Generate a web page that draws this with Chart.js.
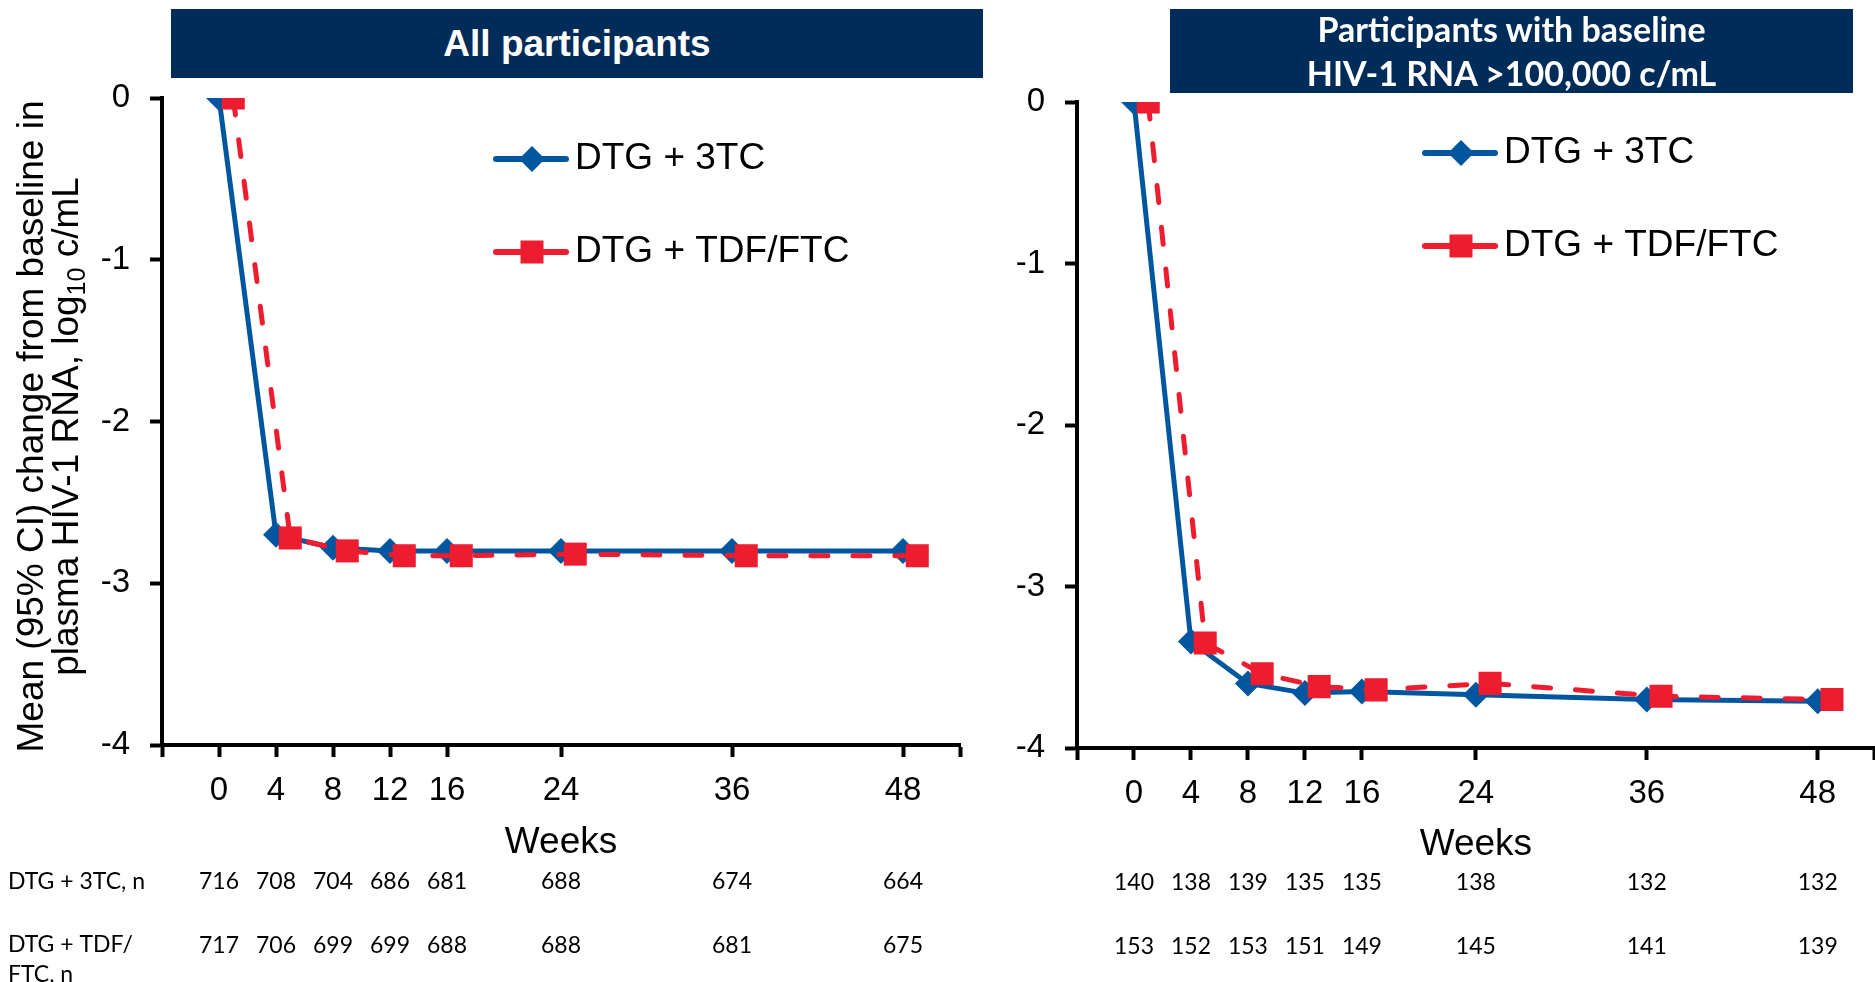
<!DOCTYPE html>
<html>
<head>
<meta charset="utf-8">
<script src="https://cdn.jsdelivr.net/npm/chart.js@4.4.1/dist/chart.umd.min.js"></script>
<style>
  html, body { margin: 0; padding: 0; background: #fff; }
  body { width: 1875px; height: 982px; position: relative; overflow: hidden; font-family: Arial, "Liberation Sans", sans-serif; }
  .panel { position: absolute; top: 0; height: 982px; }
  .bar { position: absolute; background: #002c5a; color: #fff; text-align: center; font-weight: bold; }
</style>
</head>
<body>
<div class="panel" style="left:0;width:1000px"><canvas id="chartAll"></canvas></div>
<div class="panel" style="left:1000px;width:891px"><canvas id="chartHigh"></canvas></div>
<div class="bar" style="left:171px;top:9px;width:812px;height:69px;line-height:69px;font-size:37px;">All participants</div>
<div class="bar" style="left:1170px;top:9px;width:683px;height:84px;line-height:44px;font-family:Lato, 'Open Sans', sans-serif;font-size:34px;"><div style="margin-top:-2px">Participants with baseline<br>HIV-1 RNA &gt;100,000 c/mL</div></div>
<script>
// weeks on the x axis
const weeks = [0, 4, 8, 12, 16, 24, 36, 48];
const seriesNames = ['DTG + 3TC', 'DTG + TDF/FTC'];
const yTicks = [0, -1, -2, -3, -4];

// mean change from baseline, log10 c/mL
const allDtg3tc = [0, -2.70, -2.78, -2.80, -2.80, -2.80, -2.80, -2.80];
const allDtgTdf = [0, -2.72, -2.80, -2.83, -2.83, -2.82, -2.83, -2.83];
const highDtg3tc = [0, -3.34, -3.60, -3.66, -3.65, -3.67, -3.70, -3.71];
const highDtgTdf = [0, -3.35, -3.54, -3.62, -3.64, -3.60, -3.68, -3.70];

// participants per visit
const allN3tc = [716, 708, 704, 686, 681, 688, 674, 664];
const allNTdf = [717, 706, 699, 699, 688, 688, 681, 675];
const highN3tc = [140, 138, 139, 135, 135, 138, 132, 132];
const highNTdf = [153, 152, 153, 151, 149, 145, 141, 139];

const BLUE = '#0057a0';
const RED = '#ed1c2e';
const FONT = 'Arial, "Liberation Sans", sans-serif';
const TABLE_FONT = '23px Lato, "Open Sans", sans-serif';

Chart.defaults.font.family = FONT;
Chart.defaults.color = '#000';

function drawMarker(ctx, style, x, y, color) {
  ctx.fillStyle = color;
  ctx.beginPath();
  if (style === 'rectRot') {
    ctx.moveTo(x, y - 13); ctx.lineTo(x + 13, y); ctx.lineTo(x, y + 13); ctx.lineTo(x - 13, y);
  } else {
    ctx.rect(x - 11.5, y - 11.5, 23, 23);
  }
  ctx.closePath();
  ctx.fill();
}

const extras = {
  id: 'extras',
  afterDraw(chart, args, o) {
    const ctx = chart.ctx;
    const xs = chart.scales.x;
    const a = chart.chartArea;
    ctx.save();
    ctx.fillStyle = '#000';
    ctx.textBaseline = 'middle';

    // x axis title
    ctx.font = '37px ' + FONT;
    ctx.textAlign = 'center';
    ctx.fillText('Weeks', xs.getPixelForValue(24), o.xTitleY);

    // n table
    ctx.font = TABLE_FONT;
    o.rows.forEach(row => {
      row.values.forEach((v, i) => ctx.fillText(String(v), xs.getPixelForValue(weeks[i]), row.y));
    });
    ctx.textAlign = 'left';
    (o.rowLabels || []).forEach(l => ctx.fillText(l.text, 8, l.y));

    // legend
    chart.data.datasets.forEach((ds, i) => {
      const lx = a.left + o.legendX;
      const ly = a.top + o.legendY + i * o.legendGap;
      ctx.strokeStyle = ds.borderColor;
      ctx.lineWidth = 6;
      ctx.lineCap = 'round';
      ctx.beginPath();
      ctx.moveTo(lx, ly);
      ctx.lineTo(lx + 70, ly);
      ctx.stroke();
      drawMarker(ctx, ds.pointStyle, lx + 36, ly, ds.backgroundColor);
      ctx.fillStyle = '#000';
      ctx.font = '37px ' + FONT;
      ctx.fillText(ds.label, lx + 79, ly);
    });

    // y axis title, two rotated lines
    if (o.yTitle) {
      ctx.translate(0, (a.top + a.bottom) / 2 + 5);
      ctx.rotate(-Math.PI / 2);
      ctx.textBaseline = 'alphabetic';
      ctx.font = '37px ' + FONT;
      ctx.textAlign = 'center';
      ctx.fillText('Mean (95% CI) change from baseline in', 0, 43);
      const p1 = 'plasma HIV-1 RNA, log', sub = '10', p3 = ' c/mL';
      const w1 = ctx.measureText(p1).width, w3 = ctx.measureText(p3).width;
      ctx.font = '25px ' + FONT;
      const w2 = ctx.measureText(sub).width;
      const sx = -(w1 + w2 + w3) / 2;
      ctx.textAlign = 'left';
      ctx.font = '37px ' + FONT;
      ctx.fillText(p1, sx, 78);
      ctx.font = '25px ' + FONT;
      ctx.fillText(sub, sx + w1, 85);
      ctx.font = '37px ' + FONT;
      ctx.fillText(p3, sx + w1 + w2, 78);
    }
    ctx.restore();
  }
};

function buildChart(id, s1, s2, geo, extraOpts) {
  return new Chart(document.getElementById(id), {
    type: 'line',
    data: {
      datasets: [
        {
          label: seriesNames[0],
          data: weeks.map((w, i) => ({ x: w, y: s1[i] })),
          borderColor: BLUE, backgroundColor: BLUE,
          borderWidth: 5, pointStyle: 'rectRot', pointRadius: 13,
          pointBorderWidth: 0, order: 1
        },
        {
          label: seriesNames[1],
          data: weeks.map((w, i) => ({ x: w + 1, y: s2[i] })),
          borderColor: RED, backgroundColor: RED,
          borderWidth: 5, borderDash: [17, 25], borderCapStyle: 'round',
          pointStyle: 'rect', pointRadius: 16.3,
          pointBorderWidth: 0, order: 0
        }
      ]
    },
    options: {
      responsive: true,
      maintainAspectRatio: false,
      animation: false,
      events: [],
      layout: { padding: { left: 0, top: geo.top, right: geo.right, bottom: 0 } },
      plugins: { legend: { display: false }, tooltip: { enabled: false }, extras: extraOpts },
      scales: {
        x: {
          type: 'linear', min: -4, max: 52,
          afterBuildTicks: s => { s.ticks = [-4, ...weeks, 52].map(v => ({ value: v })); },
          afterFit: s => { s.height = 982 - geo.bottom; },
          ticks: {
            autoSkip: false, maxRotation: 0, padding: 14,
            font: { size: 33 },
            callback: v => weeks.includes(v) ? String(v) : ''
          },
          grid: { drawOnChartArea: false, drawTicks: true, tickLength: 12, tickWidth: 4, tickColor: '#000' },
          border: { display: true, color: '#000', width: 4 }
        },
        y: {
          min: -4, max: 0,
          afterBuildTicks: s => { s.ticks = yTicks.map(v => ({ value: v })); },
          afterFit: s => { s.width = geo.left; },
          ticks: { padding: 20, font: { size: 33 } },
          grid: { drawOnChartArea: false, drawTicks: true, tickLength: 12, tickWidth: 4, tickColor: '#000' },
          border: { display: true, color: '#000', width: 4 }
        }
      }
    },
    plugins: [extras]
  });
}

buildChart('chartAll', allDtg3tc, allDtgTdf,
  { left: 162, top: 98, right: 40, bottom: 745 },
  {
    yTitle: true, xTitleY: 843,
    legendX: 334, legendY: 61, legendGap: 93,
    rows: [{ values: allN3tc, y: 882 }, { values: allNTdf, y: 946 }],
    rowLabels: [{ text: 'DTG + 3TC, n', y: 882 }, { text: 'DTG + TDF/', y: 945 }, { text: 'FTC, n', y: 975 }]
  });

buildChart('chartHigh', highDtg3tc, highDtgTdf,
  { left: 77, top: 102, right: 2, bottom: 748 },
  {
    yTitle: false, xTitleY: 845,
    legendX: 348, legendY: 51, legendGap: 93,
    rows: [{ values: highN3tc, y: 883 }, { values: highNTdf, y: 947 }]
  });
</script>
</body>
</html>
